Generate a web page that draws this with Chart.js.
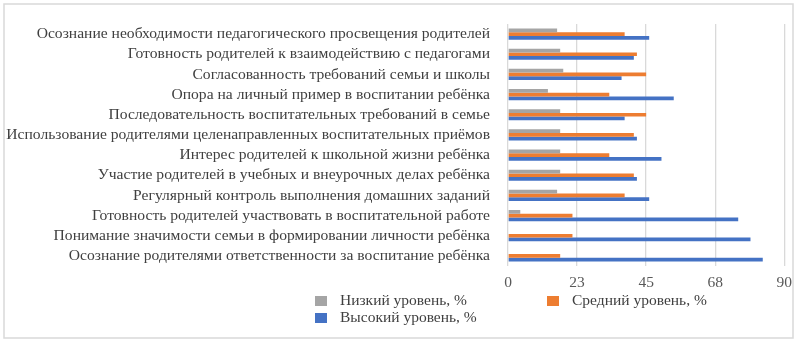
<!DOCTYPE html>
<html>
<head>
<meta charset="utf-8">
<script src="https://cdn.jsdelivr.net/npm/chart.js@4"></script>
<style>
  html, body { margin: 0; padding: 0; background: #fff; }
  #wrap { position: relative; width: 800px; height: 344px; }
</style>
</head>
<body>
<div id="wrap"><canvas id="chart" width="800" height="344"></canvas></div>
<script>
  // categories, top to bottom as shown
  const categories = [
    'Осознание необходимости педагогического просвещения родителей',
    'Готовность родителей к взаимодействию с педагогами',
    'Согласованность требований семьи и школы',
    'Опора на личный пример в воспитании ребёнка',
    'Последовательность воспитательных требований в семье',
    'Использование родителями целенаправленных воспитательных приёмов',
    'Интерес родителей к школьной жизни ребёнка',
    'Участие родителей в учебных и внеурочных делах ребёнка',
    'Регулярный контроль выполнения домашних заданий',
    'Готовность родителей участвовать в воспитательной работе',
    'Понимание значимости семьи в формировании личности ребёнка',
    'Осознание родителями ответственности за воспитание ребёнка'
  ];
  const lowLevel = [16, 17, 18, 13, 17, 17, 17, 17, 16, 4, 0, 0];
  const midLevel = [38, 42, 45, 33, 45, 41, 33, 41, 38, 21, 21, 17];
  const highLevel = [46, 41, 37, 54, 38, 42, 50, 42, 46, 75, 79, 83];
  const xTicks = [0, 22.5, 45, 67.5, 90];

  const SERIF = '"Liberation Serif", "Times New Roman", serif';

  // Excel-style chart frame
  const framePlugin = {
    id: 'frame',
    beforeDraw(chart) {
      const { ctx } = chart;
      ctx.save();
      ctx.strokeStyle = '#d9d9d9';
      ctx.lineWidth = 1.5;
      ctx.strokeRect(4, 4, 789, 334);
      ctx.restore();
    }
  };

  // legend laid out in two columns like the original
  const legendPlugin = {
    id: 'gridLegend',
    afterDraw(chart) {
      const { ctx } = chart;
      const spots = [{ x: 315, y: 296 }, { x: 547, y: 296 }, { x: 315, y: 313 }];
      ctx.save();
      ctx.font = '15.5px ' + SERIF;
      ctx.textBaseline = 'middle';
      chart.data.datasets.forEach((ds, i) => {
        const p = spots[i];
        ctx.fillStyle = ds.backgroundColor;
        ctx.fillRect(p.x, p.y, 12, 10);
        ctx.fillStyle = '#404040';
        ctx.fillText(ds.label, p.x + 25, p.y + 5);
      });
      ctx.restore();
    }
  };

  new Chart(document.getElementById('chart'), {
    type: 'bar',
    plugins: [framePlugin, legendPlugin],
    data: {
      labels: categories,
      datasets: [
        { label: 'Низкий уровень, %', data: lowLevel, backgroundColor: '#a5a5a5' },
        { label: 'Средний уровень, %', data: midLevel, backgroundColor: '#ed7d31' },
        { label: 'Высокий уровень, %', data: highLevel, backgroundColor: '#4472c4' }
      ]
    },
    options: {
      indexAxis: 'y',
      responsive: false,
      animation: false,
      datasets: { bar: { categoryPercentage: 0.55, barPercentage: 1.0 } },
      layout: { padding: { left: 0, right: 14, top: 24, bottom: 0 } },
      plugins: {
        legend: { display: false },
        tooltip: { enabled: false }
      },
      scales: {
        x: {
          min: 0,
          max: 90,
          afterBuildTicks: scale => { scale.ticks = xTicks.map(v => ({ value: v })); },
          afterFit: scale => { scale.height = 344 - 266; },
          grid: { color: '#d9d9d9', lineWidth: 1.3, drawTicks: false },
          border: { display: false },
          ticks: {
            color: '#595959',
            padding: 8,
            font: { family: SERIF, size: 15.5 },
            callback: v => Math.round(v)
          }
        },
        y: {
          afterFit: scale => { scale.width = 508; },
          grid: { display: false },
          border: { display: false },
          ticks: {
            color: '#404040',
            padding: 10,
            autoSkip: false,
            font: { family: SERIF, size: 15.6 }
          }
        }
      }
    }
  });
</script>
</body>
</html>
